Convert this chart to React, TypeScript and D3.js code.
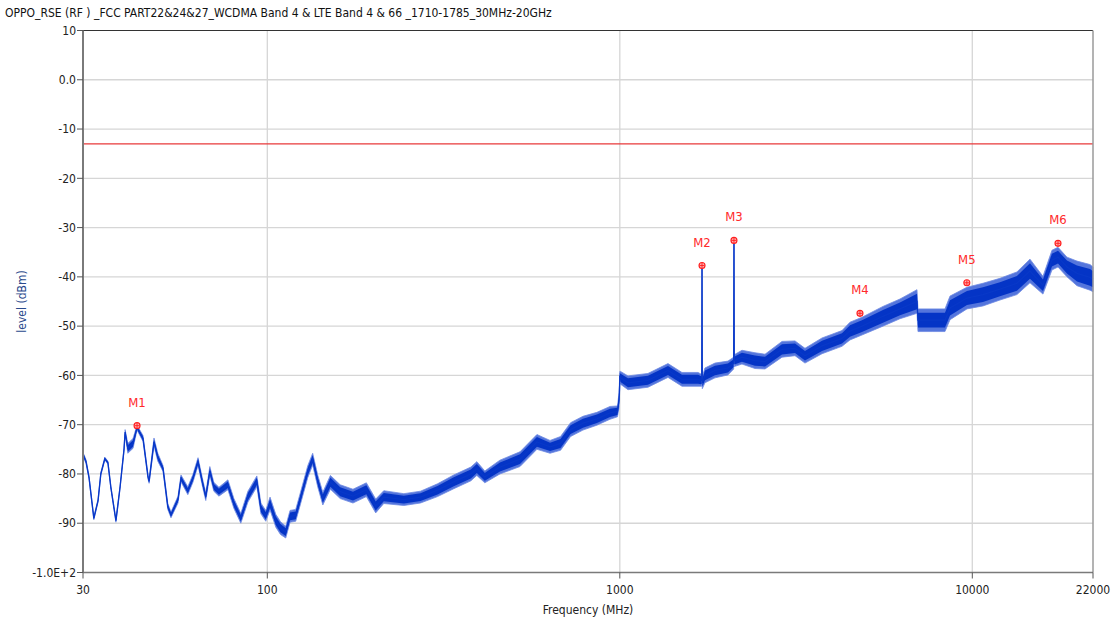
import React from 'react';
import * as d3 from 'd3';

const TITLE = 'OPPO_RSE (RF ) _FCC PART22&24&27_WCDMA Band 4 & LTE Band 4 & 66 _1710-1785_30MHz-20GHz';
const X_LABEL = 'Frequency (MHz)';
const Y_LABEL = 'level (dBm)';

const yTicks = [10, 0, -10, -20, -30, -40, -50, -60, -70, -80, -90, -100];
const yTickLabels = ['10', '0.0', '-10', '-20', '-30', '-40', '-50', '-60', '-70', '-80', '-90', '-1.0E+2'];
const xTicks = [30, 100, 1000, 10000, 22000];
const xTickLabels = ['30', '100', '1000', '10000', '22000'];
const xGrid = [100, 1000, 10000];
const limitLevel = -13;

// trace: frequency (MHz), centre level (dBm), half-width of the noise band (dB)
const freqMHz = [
  30, 30.6, 31.2, 32.2, 33.1, 33.7, 34.6, 35.3, 36.0, 37.2, 38.2, 39.2, 39.5, 40.2, 41.6, 42.7, 44.4, 45.9, 46.2,
  47.7, 48.9, 50.6, 52.2, 53.3, 55.8, 56.9, 59.5, 61.5, 63.6, 65.6, 66.9, 68.7, 70.5, 72.9, 77.3, 80.4, 84.1, 88.1,
  89.8, 93.4, 95.9, 99.0, 101.8, 105.7, 109, 112.8, 116, 120.4, 124, 130.3, 134.5, 139.1, 143.7, 151, 161, 175, 191,
  203, 214, 244, 272, 304, 338, 378, 393, 414, 457, 521, 582, 634, 679, 725, 786, 861, 938, 985, 995, 999,
  1000, 1005, 1055, 1202, 1370, 1501, 1667, 1708, 1711, 1714, 1744, 1862, 2027, 2104, 2108, 2112, 2221, 2418, 2582,
  2885, 3141, 3352, 3747, 4269, 4498, 4864, 5579, 6234, 6968, 7013, 7734, 8366, 8645, 9658, 10723, 11982, 13386,
  14575, 15868, 16827, 17504, 18562, 19817, 21574, 22000,
];
const levelDbm = [
  -76, -77.5, -80.7, -89, -85.4, -80, -76.9, -77.7, -82.8, -89.5, -82.8, -75.2, -71.5, -74.8, -73.8, -70.6, -72.8, -80.7, -81.5,
  -73.5, -76.6, -78.9, -86.6, -88.3, -85.2, -80.9, -83.4, -80.9, -77.5, -82, -84.6, -79.4, -82.6, -83.6, -82.2, -86, -89, -84.6,
  -83.6, -81.5, -87, -88.5, -86, -89.5, -91, -91.8, -88.6, -88.4, -85.1, -79.5, -77, -81.5, -85, -81.7, -83.6, -84.5, -83.2,
  -86.5, -84.7, -85.2, -84.7, -83.3, -81.6, -80, -78.9, -80.6, -78.6, -77, -73.5, -74.5, -73.8, -71, -69.7, -68.8, -67.6, -67.3, -65, -62,
  -60, -60.5, -61.5, -61, -59, -60.8, -60.8, -61, -37.7, -61.5, -60, -59, -58.5, -57.5, -32.6, -57, -56.3, -57, -57.2,
  -54.7, -54.5, -56, -54, -52.5, -51, -50, -48, -46.5, -45, -48.8, -48.8, -48.8, -46.3, -44.3, -43.6, -42.5, -41.3,
  -38.8, -41.7, -36.6, -36, -38, -39.3, -40.1, -40.5,
];
const spreadDb = [
  0.4, 0.4, 0.3, 0.3, 0.3, 0.3, 0.3, 0.3, 0.3, 0.3, 0.3, 0.4, 0.5, 1.0, 1.0, 0.5, 0.6, 0.4, 0.4,
  0.8, 0.8, 0.6, 0.6, 0.6, 0.7, 0.7, 0.8, 0.8, 0.8, 0.8, 0.8, 0.9, 0.9, 0.9, 1.0, 1.0, 1.0, 1.1,
  1.1, 1.1, 1.1, 1.1, 1.3, 1.3, 1.3, 1.2, 1.2, 1.2, 1.2, 1.2, 1.2, 1.2, 1.3, 1.4, 1.4, 1.4, 1.4,
  1.4, 1.3, 1.2, 1.2, 1.3, 1.4, 1.4, 1.4, 1.2, 1.4, 1.5, 1.5, 1.3, 1.4, 1.4, 1.4, 1.3, 1.3, 1.1, 1.5, 1.5,
  0.8, 1.3, 1.4, 1.4, 1.4, 1.4, 1.4, 1.2, 0, 1.2, 1.5, 1.5, 1.4, 1.2, 0, 1.2, 1.4, 1.6, 1.5,
  1.6, 1.5, 1.5, 1.6, 1.6, 1.8, 1.8, 2.0, 2.0, 2.4, 2.3, 2.3, 2.3, 2.4, 2.2, 2.3, 2.2, 2.3,
  2.4, 1.8, 2.0, 2.0, 2.0, 2.5, 2.6, 2.5,
];

const markerNames = ['M1', 'M2', 'M3', 'M4', 'M5', 'M6'];
const markerFreq = [42.7, 1711, 2108, 4801, 9650, 17504];
const markerLevel = [-70.2, -37.7, -32.6, -47.4, -41.2, -33.2];

const FONT = "'DejaVu Sans Condensed', 'DejaVu Sans', sans-serif";

export default function App() {
  const W = 1115;
  const H = 626;
  const left = 83;
  const right = 1093;
  const top = 30.5;
  const bottom = 572.5;

  const x = d3.scaleLog().domain([30, 22000]).range([left, right]);
  const y = d3.scaleLinear().domain([-100, 10]).range([bottom, top]);
  const idx = d3.range(freqMHz.length);

  const outer = d3
    .area<number>()
    .x((i) => x(freqMHz[i]))
    .y0((i) => y(levelDbm[i] - spreadDb[i]))
    .y1((i) => y(levelDbm[i] + spreadDb[i]));
  const inner = d3
    .area<number>()
    .x((i) => x(freqMHz[i]))
    .y0((i) => y(levelDbm[i] - spreadDb[i] * 0.65))
    .y1((i) => y(levelDbm[i] + spreadDb[i] * 0.65));
  const line = d3
    .line<number>()
    .x((i) => x(freqMHz[i]))
    .y((i) => y(levelDbm[i]));

  return (
    <svg
      width={W}
      height={H}
      style={{ position: 'absolute', left: 0, top: 0, background: '#fff' }}
      fontFamily={FONT}
    >
      <text x={5} y={17} fontSize={12} fill="#111">
        {TITLE}
      </text>

      {/* grid */}
      {yTicks.slice(1, -1).map((t) => (
        <line key={'gy' + t} x1={left} x2={right} y1={y(t)} y2={y(t)} stroke="#d6d6d6" strokeWidth={1.3} />
      ))}
      {xGrid.map((t) => (
        <line key={'gx' + t} x1={x(t)} x2={x(t)} y1={top} y2={bottom} stroke="#d6d6d6" strokeWidth={1.3} />
      ))}

      {/* limit line */}
      <line x1={left} x2={right} y1={y(limitLevel)} y2={y(limitLevel)} stroke="#e8393a" strokeWidth={1.2} />

      {/* trace */}
      <path d={outer(idx) || ''} fill="#5475dc" stroke="#6f8ae2" strokeWidth={0.8} />
      <path d={inner(idx) || ''} fill="#0434c6" />
      <path d={line(idx) || ''} fill="none" stroke="#0838c8" strokeWidth={1.3} />

      {/* frame */}
      <line x1={left} x2={right} y1={top} y2={top} stroke="#333" strokeWidth={1} />
      <line x1={right} x2={right} y1={top} y2={bottom} stroke="#9a9a9a" strokeWidth={1.5} />
      <line x1={left} x2={right} y1={bottom} y2={bottom} stroke="#7a7a7a" strokeWidth={1.5} />
      <line x1={left} x2={left} y1={top} y2={bottom} stroke="#7a7a7a" strokeWidth={2} />

      {/* y axis */}
      {yTicks.map((t, i) => (
        <g key={'yt' + t}>
          <line x1={left - 6} x2={left} y1={y(t)} y2={y(t)} stroke="#555" strokeWidth={1} />
          <text x={left - 7} y={y(t)} dy="0.35em" textAnchor="end" fontSize={12} fill="#222">
            {yTickLabels[i]}
          </text>
        </g>
      ))}

      {/* x axis */}
      {xTicks.map((t, i) => (
        <g key={'xt' + t}>
          <line x1={x(t)} x2={x(t)} y1={bottom} y2={bottom + 6} stroke="#555" strokeWidth={1} />
          <text x={x(t)} y={bottom + 21} textAnchor="middle" fontSize={12} fill="#222">
            {xTickLabels[i]}
          </text>
        </g>
      ))}

      <text x={(left + right) / 2} y={614} textAnchor="middle" fontSize={12} fill="#222">
        {X_LABEL}
      </text>
      <text
        transform={`translate(26, ${(top + bottom) / 2}) rotate(-90)`}
        textAnchor="middle"
        fontSize={12}
        fill="#2a4a8c"
      >
        {Y_LABEL}
      </text>

      {/* markers */}
      {markerNames.map((m, i) => {
        const cx = x(markerFreq[i]);
        const cy = y(markerLevel[i]);
        return (
          <g key={m}>
            <circle cx={cx} cy={cy} r={3} fill="#ffb0b0" stroke="#ff1f1f" strokeWidth={1.1} />
            <line x1={cx - 2.5} x2={cx + 2.5} y1={cy} y2={cy} stroke="#ff1f1f" strokeWidth={0.9} />
            <line x1={cx} x2={cx} y1={cy - 2.5} y2={cy + 2.5} stroke="#ff1f1f" strokeWidth={0.9} />
            <text x={cx} y={cy - 19} textAnchor="middle" fontSize={13} fill="#ff2a2a">
              {m}
            </text>
          </g>
        );
      })}
    </svg>
  );
}
